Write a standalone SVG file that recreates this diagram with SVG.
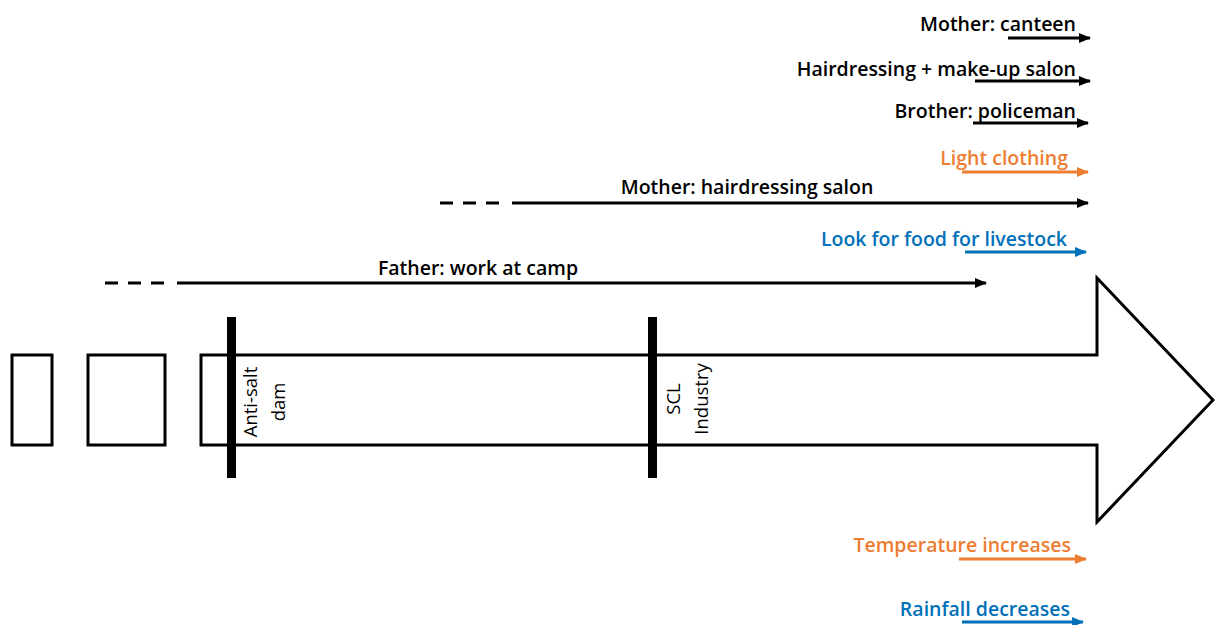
<svg xmlns="http://www.w3.org/2000/svg" width="1215" height="625" viewBox="0 0 1215 625">
  <style>
    .lbl { font-family: "Open Sans", "Liberation Sans", sans-serif; font-weight: 600; font-size: 19.5px; }
    .vlbl { font-family: "Open Sans", "Liberation Sans", sans-serif; font-weight: 400; font-size: 18.5px; text-anchor: middle; }
    .k { fill: #000; }
    .o { fill: #ED7D31; }
    .b { fill: #0070B8; }
    .ln { stroke-width: 3; fill: none; }
    .lk { stroke: #000; }
    .lo { stroke: #ED7D31; }
    .lb { stroke: #0070B8; }
    .shape { fill: #fff; stroke: #000; stroke-width: 3; }
  </style>
  <defs>
    <marker id="ahk" markerWidth="12" markerHeight="10" refX="11" refY="5" orient="auto" markerUnits="userSpaceOnUse">
      <path d="M0,0 L12,5 L0,10 Z" fill="#000"/>
    </marker>
    <marker id="aho" markerWidth="12" markerHeight="10" refX="11" refY="5" orient="auto" markerUnits="userSpaceOnUse">
      <path d="M0,0 L12,5 L0,10 Z" fill="#ED7D31"/>
    </marker>
    <marker id="ahb" markerWidth="12" markerHeight="10" refX="11" refY="5" orient="auto" markerUnits="userSpaceOnUse">
      <path d="M0,0 L12,5 L0,10 Z" fill="#0070B8"/>
    </marker>
  </defs>

  <rect width="1215" height="625" fill="#fff"/>

  <!-- timeline: earlier periods and the main arrow -->
  <g id="period-1"><rect class="shape" x="12" y="355" width="40" height="90"/></g>
  <g id="period-2"><rect class="shape" x="88" y="355" width="77" height="90"/></g>
  <g id="timeline-arrow">
    <polygon class="shape" points="201,355 1097,355 1097,278 1213,400 1097,522 1097,445 201,445"/>
  </g>

  <!-- events on the timeline -->
  <g id="anti-salt-dam">
    <rect x="227" y="317" width="9" height="161" fill="#000"/>
    <text class="vlbl" transform="translate(257,402) rotate(-90)">Anti-salt</text>
    <text class="vlbl" transform="translate(285,402) rotate(-90)">dam</text>
  </g>
  <g id="scl-industry">
    <rect x="648" y="317" width="9" height="161" fill="#000"/>
    <text class="vlbl" transform="translate(680,399) rotate(-90)">SCL</text>
    <text class="vlbl" transform="translate(708,399) rotate(-90)">Industry</text>
  </g>

  <!-- labels -->
  <g id="mother-canteen"><text class="lbl k" x="1076" y="31" text-anchor="end">Mother: canteen</text></g>
  <g id="hair-makeup"><text class="lbl k" x="1076" y="76" text-anchor="end">Hairdressing + make-up salon</text></g>
  <g id="brother-police"><text class="lbl k" x="1076" y="118" text-anchor="end">Brother: policeman</text></g>
  <g id="light-clothing"><text class="lbl o" x="1068" y="165" text-anchor="end">Light clothing</text></g>
  <g id="mother-hair"><text class="lbl k" x="747" y="194" text-anchor="middle">Mother: hairdressing salon</text></g>
  <g id="livestock-food"><text class="lbl b" x="1067" y="246" text-anchor="end">Look for food for livestock</text></g>
  <g id="father-camp"><text class="lbl k" x="478" y="275" text-anchor="middle">Father: work at camp</text></g>
  <g id="temperature"><text class="lbl o" x="1071" y="552" text-anchor="end">Temperature increases</text></g>
  <g id="rainfall"><text class="lbl b" x="1070" y="616" text-anchor="end">Rainfall decreases</text></g>

  <!-- connectors -->
  <g id="connectors">
    <line class="ln lk" x1="1008" y1="38" x2="1090" y2="38" marker-end="url(#ahk)"/>
    <line class="ln lk" x1="975" y1="81" x2="1090" y2="81" marker-end="url(#ahk)"/>
    <line class="ln lk" x1="973" y1="123" x2="1088" y2="123" marker-end="url(#ahk)"/>
    <line class="ln lo" x1="962" y1="172" x2="1088" y2="172" marker-end="url(#aho)"/>
    <line class="ln lk" x1="440" y1="203" x2="502" y2="203" stroke-dasharray="13,10"/>
    <line class="ln lk" x1="512" y1="203" x2="1088" y2="203" marker-end="url(#ahk)"/>
    <line class="ln lb" x1="965" y1="252" x2="1086" y2="252" marker-end="url(#ahb)"/>
    <line class="ln lk" x1="105" y1="283" x2="167" y2="283" stroke-dasharray="13,10"/>
    <line class="ln lk" x1="177" y1="283" x2="986" y2="283" marker-end="url(#ahk)"/>
    <line class="ln lo" x1="959" y1="559" x2="1086" y2="559" marker-end="url(#aho)"/>
    <line class="ln lb" x1="962" y1="622" x2="1083" y2="622" marker-end="url(#ahb)"/>
  </g>
</svg>
